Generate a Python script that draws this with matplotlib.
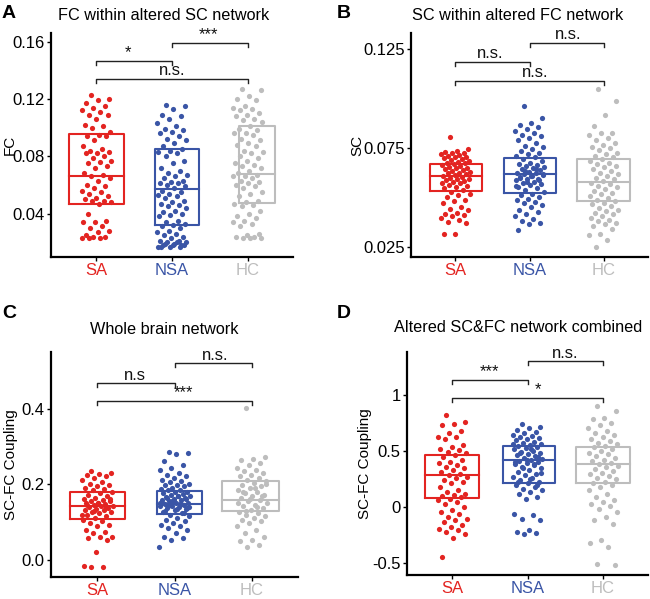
import numpy as np
import matplotlib
matplotlib.use("Agg")
import matplotlib.pyplot as plt

plt.rcParams['font.family'] = ['Liberation Sans', 'DejaVu Sans']

# ==========================================
# data
# ==========================================
groups = ['SA', 'NSA', 'HC']
colors = ['#E32421', '#3A55A6', '#BDBDBD']

# A: FC within altered SC network
a_sa = [0.123, 0.120, 0.119, 0.117, 0.115, 0.114, 0.112, 0.111, 0.109, 0.109, 0.106, 0.102,
        0.101, 0.100, 0.097, 0.095, 0.094, 0.094, 0.091, 0.087, 0.085, 0.084, 0.083, 0.082,
        0.082, 0.080, 0.079, 0.077, 0.076, 0.075, 0.073, 0.072, 0.068, 0.067, 0.066, 0.065,
        0.063, 0.060, 0.059, 0.058, 0.056, 0.055, 0.054, 0.052, 0.051, 0.050, 0.049, 0.049,
        0.048, 0.047, 0.040, 0.035, 0.034, 0.034, 0.031, 0.030, 0.028, 0.027, 0.025, 0.024,
        0.024, 0.023, 0.023, 0.023]
a_nsa = [0.116, 0.115, 0.113, 0.109, 0.108, 0.106, 0.103, 0.101, 0.099, 0.098, 0.097, 0.096,
         0.094, 0.092, 0.091, 0.089, 0.087, 0.085, 0.084, 0.083, 0.082, 0.080, 0.077, 0.075,
         0.072, 0.070, 0.068, 0.067, 0.066, 0.065, 0.063, 0.062, 0.061, 0.061, 0.060, 0.059,
         0.058, 0.056, 0.055, 0.054, 0.053, 0.052, 0.051, 0.049, 0.048, 0.047, 0.046, 0.045,
         0.044, 0.042, 0.041, 0.040, 0.039, 0.038, 0.035, 0.034, 0.033, 0.032, 0.031, 0.030,
         0.028, 0.027, 0.026, 0.025, 0.024, 0.023, 0.021, 0.021, 0.020, 0.020, 0.019, 0.018,
         0.018, 0.017, 0.017, 0.020, 0.019, 0.018, 0.018, 0.017, 0.017]
a_hc = [0.127, 0.126, 0.122, 0.120, 0.119, 0.115, 0.114, 0.113, 0.112, 0.110, 0.109, 0.108,
        0.106, 0.105, 0.104, 0.101, 0.099, 0.098, 0.096, 0.096, 0.095, 0.092, 0.091, 0.089,
        0.088, 0.087, 0.084, 0.083, 0.082, 0.080, 0.079, 0.077, 0.075, 0.074, 0.073, 0.072,
        0.070, 0.068, 0.067, 0.066, 0.066, 0.065, 0.063, 0.062, 0.061, 0.060, 0.059, 0.058,
        0.055, 0.054, 0.052, 0.049, 0.048, 0.047, 0.046, 0.045, 0.042, 0.040, 0.038, 0.037,
        0.035, 0.034, 0.033, 0.031, 0.026, 0.025, 0.024, 0.024, 0.023, 0.023, 0.023]

# B: SC within altered FC network
b_sa = [0.0804, 0.0743, 0.0737, 0.0731, 0.0726, 0.0723, 0.0720, 0.0715, 0.0710, 0.0706,
        0.0703, 0.0698, 0.0693, 0.0689, 0.0686, 0.0681, 0.0676, 0.0672, 0.0669, 0.0664,
        0.0659, 0.0655, 0.0650, 0.0647, 0.0642, 0.0639, 0.0635, 0.0630, 0.0625, 0.0622,
        0.0618, 0.0613, 0.0608, 0.0605, 0.0601, 0.0596, 0.0591, 0.0588, 0.0583, 0.0579,
        0.0574, 0.0571, 0.0563, 0.0557, 0.0551, 0.0546, 0.0537, 0.0529, 0.0520, 0.0512,
        0.0503, 0.0490, 0.0481, 0.0470, 0.0453, 0.0444, 0.0436, 0.0422, 0.0419, 0.0411,
        0.0406, 0.0399, 0.0385, 0.0377, 0.0372, 0.0318, 0.0314]
b_nsa = [0.0960, 0.0900, 0.0878, 0.0867, 0.0855, 0.0845, 0.0838, 0.0828, 0.0816, 0.0808,
         0.0799, 0.0791, 0.0774, 0.0760, 0.0753, 0.0743, 0.0737, 0.0726, 0.0720, 0.0710,
         0.0703, 0.0693, 0.0686, 0.0676, 0.0669, 0.0664, 0.0659, 0.0652, 0.0647, 0.0642,
         0.0639, 0.0630, 0.0625, 0.0622, 0.0618, 0.0613, 0.0608, 0.0605, 0.0596, 0.0591,
         0.0588, 0.0579, 0.0574, 0.0568, 0.0563, 0.0554, 0.0546, 0.0537, 0.0529, 0.0520,
         0.0512, 0.0503, 0.0495, 0.0487, 0.0478, 0.0470, 0.0461, 0.0453, 0.0439, 0.0427,
         0.0419, 0.0406, 0.0394, 0.0382, 0.0372, 0.0365, 0.0335, 0.0645, 0.0632, 0.0620,
         0.0610, 0.0600, 0.0590, 0.0580, 0.0560]
b_hc = [0.1047, 0.0985, 0.0917, 0.0862, 0.0828, 0.0824, 0.0816, 0.0799, 0.0791, 0.0777,
        0.0765, 0.0757, 0.0748, 0.0740, 0.0726, 0.0720, 0.0710, 0.0703, 0.0693, 0.0686,
        0.0676, 0.0669, 0.0659, 0.0652, 0.0642, 0.0635, 0.0625, 0.0618, 0.0608, 0.0601,
        0.0591, 0.0585, 0.0574, 0.0568, 0.0557, 0.0551, 0.0541, 0.0534, 0.0524, 0.0517,
        0.0507, 0.0500, 0.0490, 0.0483, 0.0473, 0.0466, 0.0456, 0.0449, 0.0439, 0.0432,
        0.0422, 0.0416, 0.0406, 0.0399, 0.0389, 0.0382, 0.0372, 0.0365, 0.0355, 0.0343,
        0.0318, 0.0309, 0.0287, 0.0250]

# C: whole brain network
c_sa = [0.234, 0.230, 0.228, 0.226, 0.221, 0.217, 0.212, 0.205, 0.202, 0.199, 0.195, 0.190,
        0.188, 0.184, 0.181, 0.177, 0.173, 0.168, 0.164, 0.161, 0.159, 0.157, 0.155, 0.152,
        0.150, 0.149, 0.146, 0.143, 0.142, 0.140, 0.137, 0.135, 0.133, 0.131, 0.128, 0.126,
        0.124, 0.119, 0.115, 0.111, 0.106, 0.102, 0.097, 0.093, 0.089, 0.080, 0.075, 0.071,
        0.062, 0.060, 0.058, 0.053, 0.022, -0.015, -0.018, -0.018, 0.160, 0.150, 0.145,
        0.140, 0.130, 0.120]
c_nsa = [0.285, 0.283, 0.279, 0.261, 0.252, 0.243, 0.239, 0.230, 0.226, 0.221, 0.217, 0.212,
         0.208, 0.205, 0.202, 0.199, 0.197, 0.195, 0.190, 0.188, 0.186, 0.184, 0.181, 0.179,
         0.177, 0.175, 0.173, 0.170, 0.168, 0.166, 0.164, 0.161, 0.159, 0.158, 0.155, 0.152,
         0.150, 0.149, 0.146, 0.143, 0.142, 0.140, 0.137, 0.135, 0.133, 0.128, 0.124, 0.119,
         0.115, 0.111, 0.106, 0.102, 0.097, 0.093, 0.089, 0.084, 0.080, 0.071, 0.062, 0.058,
         0.053, 0.035, 0.170, 0.165, 0.160, 0.155, 0.150, 0.148, 0.145, 0.140, 0.135, 0.130,
         0.125, 0.157, 0.152, 0.147, 0.142, 0.137]
c_hc = [0.403, 0.273, 0.267, 0.264, 0.257, 0.250, 0.243, 0.239, 0.235, 0.230, 0.226, 0.221,
        0.217, 0.212, 0.208, 0.204, 0.199, 0.195, 0.190, 0.186, 0.181, 0.177, 0.173, 0.168,
        0.164, 0.159, 0.155, 0.150, 0.146, 0.142, 0.137, 0.133, 0.128, 0.124, 0.119, 0.115,
        0.111, 0.106, 0.102, 0.097, 0.089, 0.080, 0.071, 0.062, 0.053, 0.049, 0.040, 0.035,
        0.200, 0.190, 0.180, 0.170, 0.160, 0.150, 0.140, 0.130]

# D: altered SC&FC network combined
d_sa = [0.821, 0.761, 0.741, 0.732, 0.681, 0.663, 0.621, 0.621, 0.603, 0.553, 0.538, 0.514,
        0.508, 0.493, 0.478, 0.463, 0.448, 0.424, 0.404, 0.389, 0.374, 0.359, 0.344, 0.329,
        0.314, 0.299, 0.284, 0.270, 0.255, 0.240, 0.225, 0.210, 0.180, 0.150, 0.135, 0.120,
        0.105, 0.096, 0.090, 0.076, 0.061, 0.046, 0.025, 0.001, -0.029, -0.044, -0.059,
        -0.088, -0.103, -0.118, -0.133, -0.163, -0.178, -0.193, -0.208, -0.223, -0.237,
        -0.273, -0.446]
d_nsa = [0.738, 0.717, 0.702, 0.687, 0.672, 0.657, 0.642, 0.633, 0.621, 0.612, 0.603, 0.597,
         0.583, 0.574, 0.562, 0.553, 0.544, 0.532, 0.523, 0.514, 0.502, 0.493, 0.484, 0.472,
         0.463, 0.454, 0.442, 0.433, 0.424, 0.413, 0.404, 0.395, 0.383, 0.374, 0.359, 0.344,
         0.329, 0.314, 0.299, 0.284, 0.270, 0.255, 0.240, 0.225, 0.210, 0.195, 0.180, 0.165,
         0.150, 0.135, 0.120, 0.090, 0.076, -0.059, -0.074, -0.103, -0.118, -0.208, -0.223,
         -0.232, -0.237, 0.560, 0.520, 0.480, 0.450, 0.420, 0.400, 0.380, 0.350, 0.300,
         0.250, 0.220, 0.200]
d_hc = [0.902, 0.857, 0.791, 0.782, 0.752, 0.732, 0.702, 0.681, 0.657, 0.642, 0.627, 0.603,
        0.591, 0.574, 0.562, 0.544, 0.532, 0.514, 0.502, 0.484, 0.472, 0.454, 0.442, 0.424,
        0.413, 0.395, 0.383, 0.365, 0.353, 0.335, 0.323, 0.305, 0.293, 0.275, 0.263, 0.246,
        0.225, 0.210, 0.195, 0.180, 0.150, 0.120, 0.090, 0.061, 0.046, 0.031, 0.007, -0.014,
        -0.044, -0.088, -0.118, -0.148, -0.297, -0.321, -0.357, -0.506, -0.521]

# box stats (q1, median, q3) per group
a_box = [(0.047, 0.0663, 0.0955), (0.0323, 0.0568, 0.085), (0.0475, 0.0673, 0.101)]
b_box = [(0.0532, 0.0610, 0.0669), (0.0525, 0.0620, 0.0698), (0.0481, 0.0580, 0.0693)]
c_box = [(0.108, 0.142, 0.179), (0.121, 0.149, 0.183), (0.130, 0.159, 0.208)]
d_box = [(0.082, 0.290, 0.460), (0.213, 0.416, 0.547), (0.216, 0.383, 0.538)]

panels = [
    dict(letter='A', title='FC within altered SC network', ylabel='FC',
         data=[a_sa, a_nsa, a_hc], box=a_box,
         ylim=(0.0097, 0.166), yticks=[0.04, 0.08, 0.12, 0.16],
         yticklabels=['0.04', '0.08', '0.12', '0.16'],
         brackets=[(1, 2, 0.1465, '*', 1.42), (2, 3, 0.159, '***', 2.48), (1, 3, 0.134, 'n.s.', 2.0)],
         box_edges=[(-0.36, 0.36), (-0.22, 0.36), (-0.12, 0.36)],
         rect=[51, 33, 293, 257], ylab_x=17, title_xy=(164, 15), letter_xy=(2, 14)),
    dict(letter='B', title='SC within altered FC network', ylabel='SC',
         data=[b_sa, b_nsa, b_hc], box=b_box,
         ylim=(0.020, 0.133), yticks=[0.025, 0.075, 0.125],
         yticklabels=['0.025', '0.075', '0.125'],
         brackets=[(1, 2, 0.1184, 'n.s.', 1.47), (2, 3, 0.128, 'n.s.', 2.52), (1, 3, 0.109, 'n.s.', 2.08)],
         box_edges=[(-0.35, 0.36), (-0.35, 0.36), (-0.36, 0.36)],
         rect=[411, 33, 648, 257], ylab_x=364, title_xy=(518, 15), letter_xy=(337, 14)),
    dict(letter='C', title='Whole brain network', ylabel='SC-FC Coupling',
         data=[c_sa, c_nsa, c_hc], box=c_box,
         ylim=(-0.045, 0.55), yticks=[0.0, 0.2, 0.4],
         yticklabels=['0.0', '0.2', '0.4'],
         brackets=[(1, 2, 0.468, 'n.s', 1.49), (2, 3, 0.521, 'n.s.', 2.53), (1, 3, 0.421, '***', 2.12)],
         box_edges=[(-0.36, 0.36), (-0.23, 0.36), (-0.38, 0.36)],
         rect=[51, 352, 298, 577], ylab_x=18, title_xy=(164, 329), letter_xy=(2, 313)),
    dict(letter='D', title='Altered SC&FC network combined', ylabel='SC-FC Coupling',
         data=[d_sa, d_nsa, d_hc], box=d_box,
         ylim=(-0.607, 1.384), yticks=[-0.5, 0, 0.5, 1],
         yticklabels=['-0.5', '0', '0.5', '1'],
         brackets=[(1, 2, 1.134, '***', 1.49), (2, 3, 1.30, 'n.s.', 2.5), (1, 3, 0.973, '*', 2.14)],
         box_edges=[(-0.36, 0.36), (-0.32, 0.36), (-0.35, 0.36)],
         rect=[407, 352, 648, 575], ylab_x=372, title_xy=(518, 328), letter_xy=(337, 313)),
]

W, H = 650, 599
fig = plt.figure(figsize=(W / 100, H / 100), dpi=100)

for p in panels:
    l, t, r, b = p['rect']
    ax = fig.add_axes([l / W, 1 - b / H, (r - l) / W, (b - t) / H])

    # jittered points (deterministic spread)
    for i, vals in enumerate(p['data']):
        n = len(vals)
        jit = ((np.arange(n) * 0.6180339887 + 0.31) % 1.0 - 0.5) * 0.40
        ax.scatter(i + 1 + jit, vals, s=14, color=colors[i], linewidths=0, zorder=3)

    # boxes without whiskers
    for i, (q1, med, q3) in enumerate(p['box']):
        x0, x1 = i + 1 + p['box_edges'][i][0], i + 1 + p['box_edges'][i][1]
        ax.plot([x0, x1, x1, x0, x0], [q1, q1, q3, q3, q1], color=colors[i], lw=1.5, zorder=2)
        ax.plot([x0, x1], [med, med], color=colors[i], lw=1.5, zorder=2)

    # significance brackets
    y0, y1 = p['ylim']
    drop = 0.018 * (y1 - y0)
    for g1, g2, yb, lab, tx in p['brackets']:
        ax.plot([g1, g1, g2, g2], [yb - drop, yb, yb, yb - drop], color='#222222', lw=1.0,
                zorder=4, clip_on=False)
        ax.text(tx, yb + 0.002 * (y1 - y0), lab, ha='center', va='bottom', fontsize=12,
                color='#111111')

    ax.set_xlim(0.4, 3.6)
    ax.set_ylim(*p['ylim'])
    ax.set_yticks(p['yticks'])
    ax.set_yticklabels(p['yticklabels'], fontsize=12)
    ax.set_xticks([1, 2, 3])
    ax.set_xticklabels(groups, fontsize=12)
    for lbl, c in zip(ax.get_xticklabels(), colors):
        lbl.set_color(c)
    ax.tick_params(axis='both', length=3, width=1, pad=1.5)
    ax.set_ylabel(p['ylabel'], fontsize=11)
    ax.yaxis.set_label_coords((p['ylab_x'] - l) / (r - l), 0.5)
    for side in ['top', 'right']:
        ax.spines[side].set_visible(False)
    for side in ['left', 'bottom']:
        ax.spines[side].set_linewidth(1.6)
    ax.patch.set_alpha(0)

    # title and panel letter
    tx_fig, ty_fig = p['title_xy']
    fig.text(tx_fig / W, 1 - ty_fig / H, p['title'], ha='center', va='center', fontsize=11.7)
    lx, ly = p['letter_xy']
    fig.text(lx / W, 1 - ly / H, p['letter'], ha='left', va='center', fontsize=14,
             fontweight='bold')

fig.savefig('out.png', dpi=100)
